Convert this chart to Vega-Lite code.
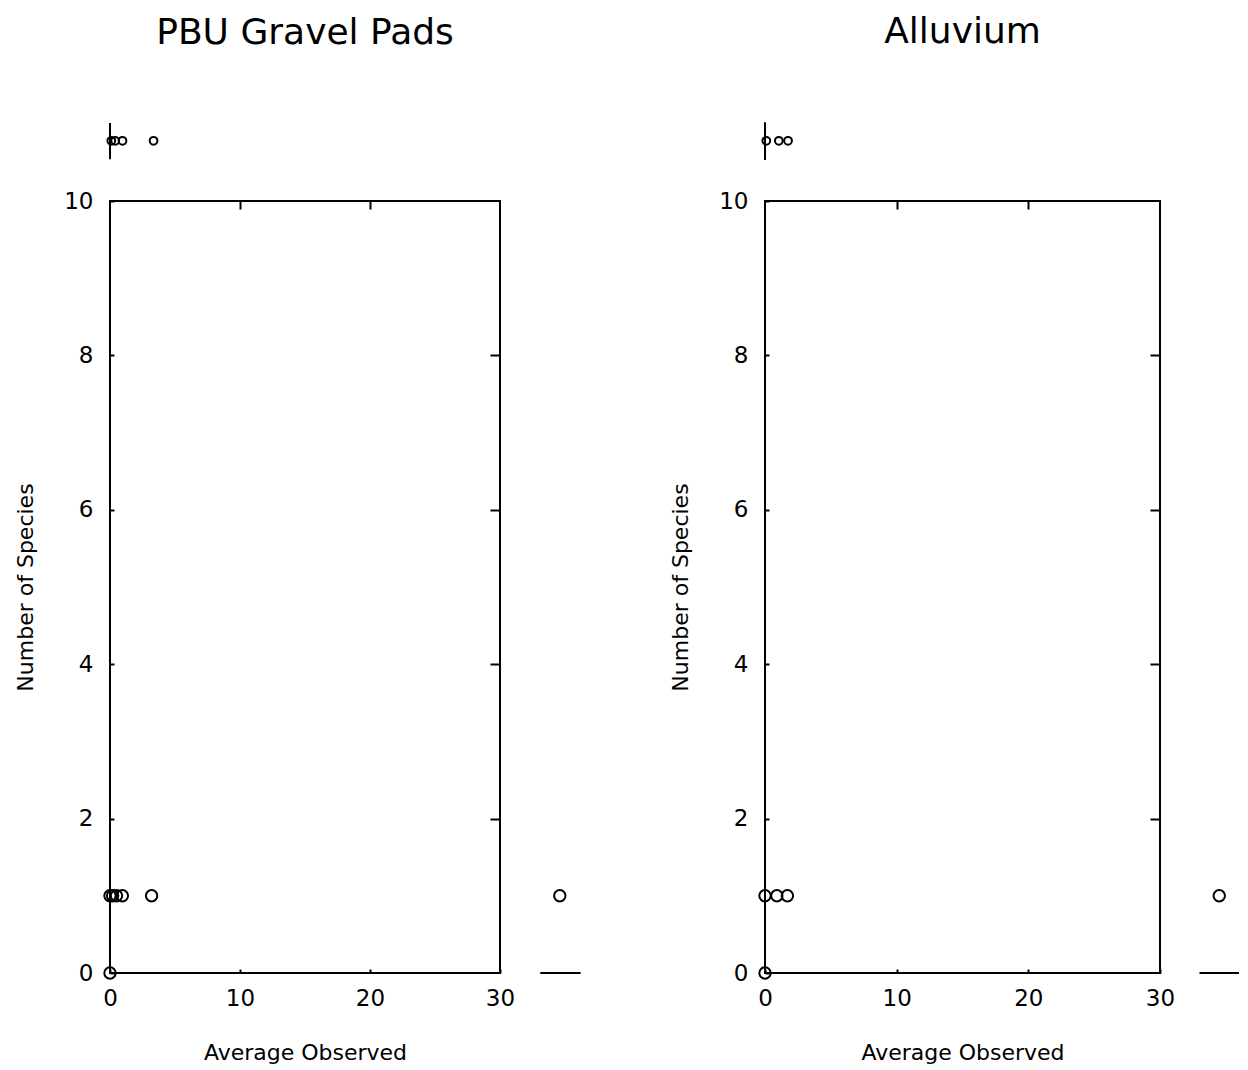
{
  "$schema": "https://vega.github.io/schema/vega-lite/v6.json",
  "background": "white",
  "padding": {"left": 13, "top": 13, "right": 5, "bottom": 5},
  "bounds": "flush",
  "spacing": 265,
  "config": {
    "font": "DejaVu Sans",
    "view": {"stroke": "black", "strokeWidth": 2},
    "axis": {
      "grid": false,
      "domain": false,
      "tickColor": "black",
      "tickWidth": 2,
      "labelColor": "black",
      "labelFlush": false,
      "labelFont": "DejaVu Sans",
      "labelFontSize": 23,
      "titleFont": "DejaVu Sans",
      "titleFontSize": 22,
      "titleFontWeight": "normal",
      "titleColor": "black"
    },
    "title": {"font": "DejaVu Sans", "fontSize": 36, "fontWeight": "normal", "color": "black"}
  },
  "datasets": {
    "main": [
      {"site": "PBU Gravel Pads", "avg": 0, "species": 0},
      {"site": "PBU Gravel Pads", "avg": 0, "species": 1},
      {"site": "PBU Gravel Pads", "avg": 0.2, "species": 1},
      {"site": "PBU Gravel Pads", "avg": 0.5, "species": 1},
      {"site": "PBU Gravel Pads", "avg": 0.95, "species": 1},
      {"site": "PBU Gravel Pads", "avg": 3.2, "species": 1},
      {"site": "PBU Gravel Pads", "avg": 34.6, "species": 1},
      {"site": "Alluvium", "avg": 0, "species": 0},
      {"site": "Alluvium", "avg": 0, "species": 1},
      {"site": "Alluvium", "avg": 0.9, "species": 1},
      {"site": "Alluvium", "avg": 1.7, "species": 1},
      {"site": "Alluvium", "avg": 34.5, "species": 1}
    ],
    "strip": [
      {"site": "PBU Gravel Pads", "avg": 0.1, "species": 10.78},
      {"site": "PBU Gravel Pads", "avg": 0.4, "species": 10.78},
      {"site": "PBU Gravel Pads", "avg": 0.96, "species": 10.78},
      {"site": "PBU Gravel Pads", "avg": 3.35, "species": 10.78},
      {"site": "Alluvium", "avg": 0.1, "species": 10.78},
      {"site": "Alluvium", "avg": 1.05, "species": 10.78},
      {"site": "Alluvium", "avg": 1.75, "species": 10.78}
    ],
    "stripAxis": [
      {"site": "PBU Gravel Pads", "avg": 0, "lo": 10.54, "hi": 11.01},
      {"site": "Alluvium", "avg": 0, "lo": 10.53, "hi": 11.02}
    ],
    "baseSeg": [
      {"site": "PBU Gravel Pads", "from": 33.1, "to": 36.2, "species": 0},
      {"site": "Alluvium", "from": 33.0, "to": 36.0, "species": 0}
    ]
  },
  "hconcat": [
    {
      "title": {"text": "PBU Gravel Pads", "offset": 70},
      "width": 390,
      "height": 772,
      "resolve": {"axis": {"x": "independent", "y": "independent"}},
      "layer": [
        {
          "data": {"name": "main"},
          "transform": [{"filter": "datum.site === 'PBU Gravel Pads'"}],
          "mark": {"type": "point", "shape": "circle", "filled": false, "color": "black", "strokeWidth": 2, "size": 130, "opacity": 1},
          "encoding": {
            "x": {"field": "avg", "type": "quantitative", "scale": {"domain": [0, 30], "nice": false, "zero": false},
                  "axis": {"orient": "bottom", "values": [0, 10, 20, 30], "tickSize": -4, "labelPadding": 18, "title": "Average Observed", "titlePadding": 32}},
            "y": {"field": "species", "type": "quantitative", "scale": {"domain": [0, 10], "nice": false, "zero": false},
                  "axis": {"orient": "left", "values": [0, 2, 4, 6, 8, 10], "tickSize": -4, "labelPadding": 21, "title": "Number of Species", "titlePadding": 26}}
          }
        },
        {
          "data": {"name": "strip"},
          "transform": [{"filter": "datum.site === 'PBU Gravel Pads'"}],
          "mark": {"type": "point", "shape": "circle", "filled": false, "color": "black", "strokeWidth": 2, "size": 60, "opacity": 1},
          "encoding": {
            "x": {"field": "avg", "type": "quantitative", "scale": {"domain": [0, 30], "nice": false, "zero": false},
                  "axis": {"orient": "top", "values": [10, 20], "tickSize": -8, "labels": false, "title": null}},
            "y": {"field": "species", "type": "quantitative", "scale": {"domain": [0, 10], "nice": false, "zero": false},
                  "axis": {"orient": "right", "values": [2, 4, 6, 8], "tickSize": -10, "labels": false, "title": null}}
          }
        },
        {
          "data": {"name": "stripAxis"},
          "transform": [{"filter": "datum.site === 'PBU Gravel Pads'"}],
          "mark": {"type": "rule", "color": "black", "strokeWidth": 2},
          "encoding": {
            "x": {"field": "avg", "type": "quantitative", "axis": null},
            "y": {"field": "lo", "type": "quantitative", "axis": null},
            "y2": {"field": "hi"}
          }
        },
        {
          "data": {"name": "baseSeg"},
          "transform": [{"filter": "datum.site === 'PBU Gravel Pads'"}],
          "mark": {"type": "rule", "color": "black", "strokeWidth": 2},
          "encoding": {
            "x": {"field": "from", "type": "quantitative", "axis": null},
            "x2": {"field": "to"},
            "y": {"field": "species", "type": "quantitative", "axis": null}
          }
        }
      ]
    },
    {
      "title": {"text": "Alluvium", "offset": 70},
      "width": 395,
      "height": 772,
      "resolve": {"axis": {"x": "independent", "y": "independent"}},
      "layer": [
        {
          "data": {"name": "main"},
          "transform": [{"filter": "datum.site === 'Alluvium'"}],
          "mark": {"type": "point", "shape": "circle", "filled": false, "color": "black", "strokeWidth": 2, "size": 130, "opacity": 1},
          "encoding": {
            "x": {"field": "avg", "type": "quantitative", "scale": {"domain": [0, 30], "nice": false, "zero": false},
                  "axis": {"orient": "bottom", "values": [0, 10, 20, 30], "tickSize": -4, "labelPadding": 18, "title": "Average Observed", "titlePadding": 32}},
            "y": {"field": "species", "type": "quantitative", "scale": {"domain": [0, 10], "nice": false, "zero": false},
                  "axis": {"orient": "left", "values": [0, 2, 4, 6, 8, 10], "tickSize": -4, "labelPadding": 21, "title": "Number of Species", "titlePadding": 26}}
          }
        },
        {
          "data": {"name": "strip"},
          "transform": [{"filter": "datum.site === 'Alluvium'"}],
          "mark": {"type": "point", "shape": "circle", "filled": false, "color": "black", "strokeWidth": 2, "size": 60, "opacity": 1},
          "encoding": {
            "x": {"field": "avg", "type": "quantitative", "scale": {"domain": [0, 30], "nice": false, "zero": false},
                  "axis": {"orient": "top", "values": [10, 20], "tickSize": -8, "labels": false, "title": null}},
            "y": {"field": "species", "type": "quantitative", "scale": {"domain": [0, 10], "nice": false, "zero": false},
                  "axis": {"orient": "right", "values": [2, 4, 6, 8], "tickSize": -10, "labels": false, "title": null}}
          }
        },
        {
          "data": {"name": "stripAxis"},
          "transform": [{"filter": "datum.site === 'Alluvium'"}],
          "mark": {"type": "rule", "color": "black", "strokeWidth": 2},
          "encoding": {
            "x": {"field": "avg", "type": "quantitative", "axis": null},
            "y": {"field": "lo", "type": "quantitative", "axis": null},
            "y2": {"field": "hi"}
          }
        },
        {
          "data": {"name": "baseSeg"},
          "transform": [{"filter": "datum.site === 'Alluvium'"}],
          "mark": {"type": "rule", "color": "black", "strokeWidth": 2},
          "encoding": {
            "x": {"field": "from", "type": "quantitative", "axis": null},
            "x2": {"field": "to"},
            "y": {"field": "species", "type": "quantitative", "axis": null}
          }
        }
      ]
    }
  ]
}
